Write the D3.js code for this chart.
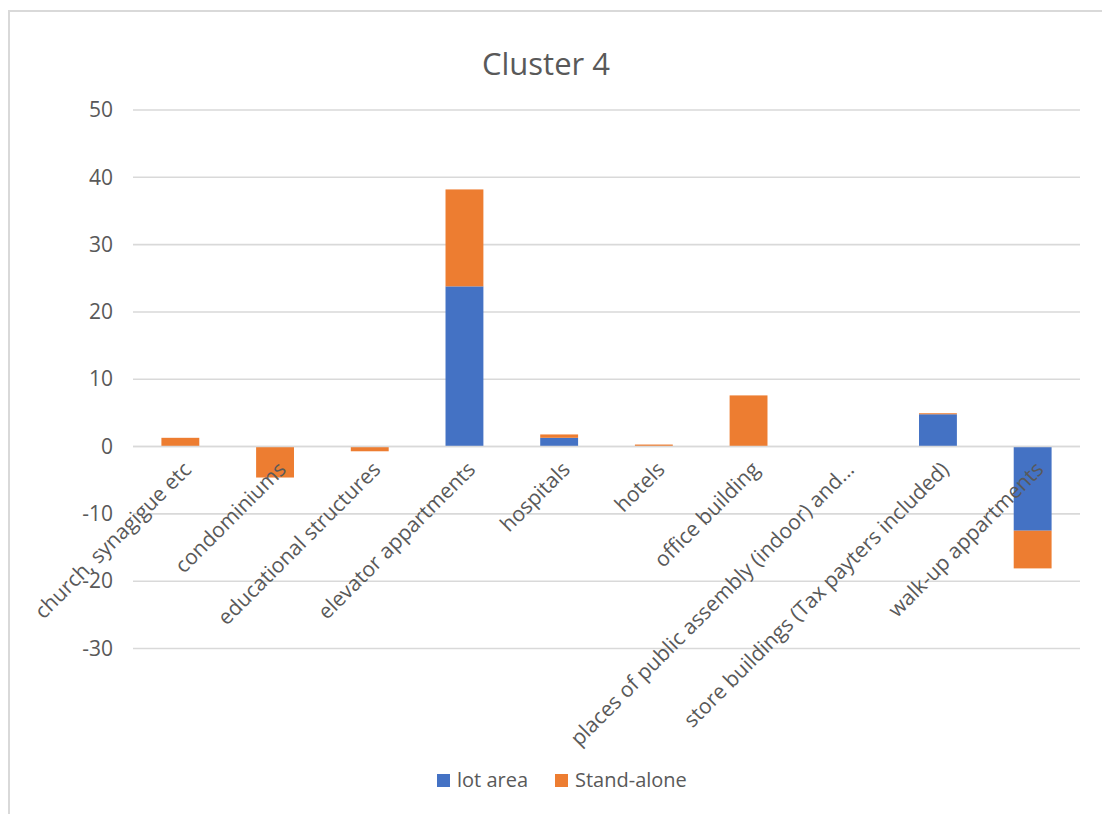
<!DOCTYPE html>
<html>
<head>
<meta charset="utf-8">
<script src="https://cdn.jsdelivr.net/npm/d3@7"></script>
<style>
  html, body { margin: 0; padding: 0; background: #ffffff; }
  svg { display: block; }
  text { font-family: "Open Sans", "Noto Sans", sans-serif; fill: #595959; }
</style>
</head>
<body>
<svg id="chart" width="1102" height="814"></svg>
<script>
// Building categories along the x axis
const categories = [
  "church, synagigue etc",
  "condominiums",
  "educational structures",
  "elevator appartments",
  "hospitals",
  "hotels",
  "office building",
  "places of public assembly (indoor) and...",
  "store buildings (Tax payters included)",
  "walk-up appartments"
];

// Series values, one per category
const lotArea    = [0, 0, 0, 23.8, 1.3, 0, 0, 0, 4.8, -12.5];
const standAlone = [1.3, -4.6, -0.7, 14.4, 0.5, 0.3, 7.6, 0, 0.15, -5.6];

const seriesNames = ["lot area", "Stand-alone"];
const seriesColors = ["#4472C4", "#ED7D31"];

// Y axis ticks
const yTicks = [-30, -20, -10, 0, 10, 20, 30, 40, 50];

const title = "Cluster 4";

// Rows for d3.stack
const rows = categories.map((c, i) => ({ cat: c, "lot area": lotArea[i], "Stand-alone": standAlone[i] }));

const svg = d3.select("#chart");

// Outer chart frame
svg.append("rect")
  .attr("x", 9).attr("y", 11)
  .attr("width", 1110).attr("height", 820)
  .attr("fill", "none")
  .attr("stroke", "#d9d9d9")
  .attr("stroke-width", 2);

const plot = { left: 133, right: 1080, top: 110, bottom: 648.5 };

const x = d3.scaleBand()
  .domain(categories)
  .range([plot.left, plot.right])
  .paddingInner(0.6)
  .paddingOuter(0.3);

const y = d3.scaleLinear()
  .domain([-30, 50])
  .range([plot.bottom, plot.top]);

// Title
svg.append("text")
  .attr("x", 546)
  .attr("y", 75)
  .attr("text-anchor", "middle")
  .style("font-size", "31px")
  .text(title);

// Horizontal gridlines
svg.append("g")
  .selectAll("line")
  .data(yTicks)
  .join("line")
  .attr("x1", plot.left).attr("x2", plot.right)
  .attr("y1", d => y(d)).attr("y2", d => y(d))
  .attr("stroke", "#d9d9d9")
  .attr("stroke-width", 1.6);

// Y axis labels (plain hyphen for negatives)
const yAxis = svg.append("g")
  .attr("transform", `translate(${plot.left - 20},0)`)
  .call(d3.axisLeft(y).tickValues(yTicks).tickSize(0).tickPadding(0).tickFormat(d => String(d)));
yAxis.select(".domain").remove();
yAxis.selectAll("text")
  .style("font-size", "21px")
  .style("font-family", "'Open Sans', sans-serif")
  .attr("fill", "#595959");

// Stacked bars (positive and negative parts diverge from zero)
const stack = d3.stack()
  .keys(seriesNames)
  .offset(d3.stackOffsetDiverging);
const layers = stack(rows);

svg.append("g")
  .selectAll("g")
  .data(layers)
  .join("g")
  .attr("fill", (d, i) => seriesColors[i])
  .selectAll("rect")
  .data(d => d.filter(p => p[1] !== p[0]))
  .join("rect")
  .attr("x", d => x(d.data.cat))
  .attr("width", x.bandwidth())
  .attr("y", d => y(Math.max(d[0], d[1])))
  .attr("height", d => Math.abs(y(d[0]) - y(d[1])));

// Zero line drawn above the bars
svg.append("line")
  .attr("x1", plot.left).attr("x2", plot.right)
  .attr("y1", y(0)).attr("y2", y(0))
  .attr("stroke", "#d9d9d9")
  .attr("stroke-width", 1.6);

// Rotated category labels
svg.append("g")
  .selectAll("text")
  .data(categories)
  .join("text")
  .attr("transform", d => `translate(${x(d) + x.bandwidth() / 2 + 7},${y(0) + 19}) rotate(-45)`)
  .attr("text-anchor", "end")
  .attr("dy", "0.35em")
  .style("font-size", "21px")
  .text(d => d);

// Legend
const legend = svg.append("g").attr("transform", "translate(437,774)");
const legendX = [0, 118];
seriesNames.forEach((name, i) => {
  const g = legend.append("g").attr("transform", `translate(${legendX[i]},0)`);
  g.append("rect").attr("width", 13).attr("height", 13).attr("fill", seriesColors[i]);
  g.append("text").attr("x", 20).attr("y", 13).style("font-size", "20px").text(name);
});
</script>
</body>
</html>
